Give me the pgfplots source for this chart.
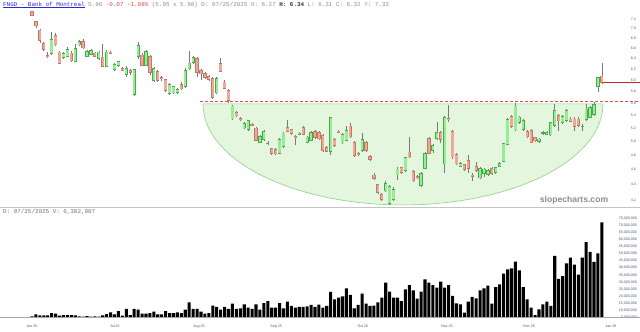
\documentclass[border=0pt]{standalone}
\usepackage{pgfplots}
\usepackage{pgfplotstable}
\pgfplotsset{compat=1.18}
\usepackage{fontspec}
\setmainfont{Liberation Sans}
\newfontfamily\monofont{Liberation Mono}
\definecolor{upfill}{HTML}{98EC98}
\definecolor{upline}{HTML}{48AA48}
\definecolor{dnfill}{HTML}{EDA898}
\definecolor{dnline}{HTML}{C07868}
\definecolor{wick}{HTML}{7A7A7A}
\definecolor{cupfill}{HTML}{E4F6DE}
\definecolor{cupline}{HTML}{8ED08A}
\definecolor{axcol}{HTML}{50507A}
\definecolor{hdrblue}{HTML}{2A2AD0}
\definecolor{hdrgray}{HTML}{8C8C8C}
\definecolor{hdrred}{HTML}{E84040}
\definecolor{dashred}{HTML}{E05050}
\definecolor{lastred}{HTML}{D02020}
\definecolor{sepgray}{HTML}{C4C4C4}

\pgfplotsset{
  candle/.style 2 args={draw=none, mark=none, forget plot,
    error bars/y dir=plus, error bars/y explicit, error bars/error mark=none,
    error bars/error bar style={draw=#1, line width=#2}},
}

\pgfplotstableread{
i o h l c
0 7.35 7.38 7.26 7.28
1 7.14 7.16 7.00 7.06
2 6.96 6.98 6.70 6.76
3 6.68 6.72 6.55 6.58
4 6.45 6.52 6.41 6.44
5 6.50 6.92 6.46 6.76
6 6.84 6.90 6.64 6.67
7 6.52 6.55 6.29 6.31
8 6.42 6.53 6.40 6.49
9 6.44 6.62 6.42 6.57
10 6.50 6.55 6.33 6.36
11 6.35 6.68 6.33 6.58
12 6.67 6.76 6.64 6.72
13 6.73 6.79 6.58 6.61
14 6.44 6.56 6.42 6.53
15 6.48 6.58 6.46 6.55
16 6.50 6.53 6.42 6.45
17 6.41 6.55 6.38 6.52
18 6.42 6.68 6.24 6.26
19 6.26 6.56 6.24 6.52
20 6.52 6.55 6.49 6.51
21 6.20 6.32 6.16 6.28
22 6.27 6.36 6.24 6.33
23 6.20 6.24 6.16 6.18
24 6.11 6.25 6.06 6.21
25 6.17 6.20 6.10 6.14
26 5.75 6.21 5.73 6.19
27 6.44 6.72 6.40 6.64
28 6.46 6.50 6.25 6.28
29 6.28 6.57 6.26 6.53
30 6.43 6.46 6.10 6.14
31 6.00 6.24 5.97 6.21
32 6.15 6.18 5.97 6.00
33 6.04 6.08 5.98 6.03
34 6.00 6.03 5.79 5.83
35 5.77 5.95 5.74 5.92
36 5.78 5.90 5.75 5.88
37 5.79 5.87 5.76 5.83
38 5.92 5.96 5.82 5.85
39 5.89 6.22 5.86 6.17
40 6.21 6.55 6.18 6.31
41 6.33 6.44 6.30 6.41
42 6.39 6.42 6.05 6.14
43 6.17 6.20 6.00 6.12
44 6.11 6.14 6.02 6.05
45 6.06 6.09 5.99 6.02
46 6.03 6.06 5.68 5.71
47 5.78 6.05 5.75 6.02
48 6.30 6.41 6.14 6.17
49 5.96 6.00 5.84 5.86
50 5.81 5.84 5.60 5.66
51 5.35 5.58 5.33 5.55
52 5.44 5.47 5.38 5.40
53 5.35 5.37 5.32 5.34
54 5.21 5.29 5.19 5.27
55 5.19 5.33 5.16 5.31
56 5.26 5.28 5.23 5.25
57 5.20 5.22 5.00 5.02
58 4.99 5.09 4.97 5.07
59 5.03 5.17 5.01 5.14
60 4.97 5.00 4.94 4.97
61 4.89 4.91 4.80 4.83
62 4.88 4.90 4.80 4.82
63 4.83 5.05 4.81 5.02
64 4.93 5.14 4.91 5.12
65 5.21 5.33 5.14 5.16
66 5.17 5.19 5.10 5.13
67 5.07 5.10 4.95 5.06
68 5.11 5.14 5.09 5.12
69 5.21 5.23 5.09 5.11
70 4.99 5.08 4.97 5.06
71 5.02 5.16 5.00 5.13
72 5.14 5.17 5.04 5.06
73 5.13 5.16 5.02 5.04
74 5.08 5.11 4.85 4.87
75 4.90 4.93 4.84 4.86
76 4.86 5.38 4.80 5.36
77 5.02 5.05 4.92 4.94
78 5.15 5.17 5.12 5.14
79 4.98 5.13 4.96 5.10
80 5.02 5.24 5.00 5.16
81 5.23 5.28 5.05 5.07
82 4.98 5.00 4.78 4.80
83 4.82 4.84 4.79 4.81
84 4.87 5.13 4.85 5.02
85 4.98 5.01 4.85 4.87
86 4.78 4.80 4.71 4.74
87 4.52 4.55 4.46 4.48
88 4.39 4.41 4.28 4.30
89 4.26 4.29 4.19 4.21
90 4.32 4.44 4.30 4.41
91 4.16 4.39 4.14 4.37
92 4.21 4.36 4.19 4.33
93 4.53 4.63 4.46 4.60
94 4.62 4.64 4.54 4.56
95 4.59 4.78 4.57 4.76
96 4.84 5.07 4.76 4.78
97 4.57 4.59 4.43 4.45
98 4.50 4.52 4.47 4.49
99 4.39 4.56 4.37 4.54
100 4.62 4.84 4.60 4.82
101 5.04 5.06 4.81 4.83
102 4.87 4.96 4.83 4.93
103 5.05 5.30 5.02 5.13
104 5.13 5.16 4.98 5.03
105 4.68 5.40 4.55 5.36
106 5.35 5.58 5.30 5.34
107 5.14 5.17 4.75 4.78
108 4.80 4.83 4.66 4.68
109 4.65 4.70 4.63 4.68
110 4.66 4.68 4.58 4.60
111 4.72 4.80 4.55 4.62
112 4.52 4.55 4.45 4.51
113 4.64 4.70 4.57 4.59
114 4.49 4.63 4.47 4.61
115 4.55 4.62 4.50 4.60
116 4.54 4.60 4.51 4.58
117 4.61 4.63 4.53 4.55
118 4.56 4.64 4.54 4.62
119 4.65 4.70 4.63 4.68
120 4.72 4.98 4.70 4.96
121 4.96 5.36 4.94 5.33
122 5.38 5.41 5.21 5.23
123 5.18 5.60 5.16 5.55
124 5.29 5.40 5.26 5.37
125 5.19 5.34 5.16 5.31
126 5.14 5.17 5.05 5.07
127 5.16 5.19 4.97 4.99
128 5.05 5.07 4.99 5.01
129 5.00 5.05 4.98 5.03
130 5.13 5.15 5.10 5.13
131 5.11 5.15 5.09 5.13
132 5.10 5.30 5.08 5.28
133 5.25 5.59 5.22 5.48
134 5.39 5.42 5.15 5.32
135 5.29 5.41 5.26 5.38
136 5.33 5.50 5.30 5.47
137 5.34 5.37 5.29 5.31
138 5.34 5.37 5.16 5.23
139 5.34 5.37 5.22 5.25
140 5.23 5.26 5.15 5.23
141 5.34 5.59 5.31 5.50
142 5.38 5.55 5.36 5.52
143 5.42 5.63 5.40 5.57
144 5.89 6.06 5.79 6.04
145 6.07 6.31 5.93 5.96
}\ohlc

\pgfplotstableread{
i v
0 0.5
1 1.9
2 1.2
3 1.2
4 1.2
5 2.8
6 2.4
7 0.9
8 1.4
9 1.4
10 1.4
11 1.2
12 0.5
13 0.3
14 0.7
15 0.3
16 0.5
17 0.3
18 1.2
19 2.1
20 3.3
21 1.9
22 4.2
23 1.0
24 5.7
25 1.4
26 5.7
27 5.2
28 2.4
29 2.4
30 2.8
31 3.8
32 1.9
33 1.9
34 4.2
35 2.8
36 2.8
37 3.3
38 2.8
39 5.2
40 10.4
41 5.7
42 5.7
43 3.8
44 2.4
45 2.8
46 8.0
47 7.1
48 5.2
49 7.1
50 5.7
51 9.4
52 5.7
53 6.1
54 9.0
55 6.6
56 5.7
57 9.0
58 5.2
59 9.9
60 11.3
61 6.6
62 6.6
63 9.9
64 6.1
65 10.8
66 7.8
67 6.6
68 7.1
69 7.1
70 7.5
71 8.5
72 7.1
73 8.7
74 6.6
75 7.8
76 17.7
77 12.5
78 13.7
79 14.6
80 20.3
81 15.6
82 6.1
83 8.5
84 16.5
85 9.4
86 7.8
87 8.0
88 10.4
89 13.7
90 24.3
91 17.9
92 13.7
93 13.7
94 11.3
95 19.6
96 22.6
97 18.9
98 13.0
99 17.9
100 26.7
101 24.3
102 22.6
103 20.8
104 25.0
105 20.8
106 22.6
107 14.9
108 9.7
109 9.0
110 3.1
111 10.8
112 14.2
113 13.2
114 18.9
115 20.3
116 22.2
117 9.4
118 21.2
119 23.1
120 30.7
121 33.7
122 34.4
123 39.2
124 33.0
125 21.2
126 12.5
127 6.6
128 1.4
129 5.4
130 9.0
131 10.8
132 7.8
133 43.2
134 27
135 29
136 38
137 42
138 37
139 30
140 42
141 53
142 46
143 39
144 45
145 67
}\vol

\newcommand\axfont{\fontsize{3.6bp}{4.2bp}\selectfont}
\newcommand\hdrfont{\monofont\fontsize{5.9bp}{7bp}\selectfont}

\begin{document}
\begin{tikzpicture}
\path[use as bounding box] (0,0) rectangle (640bp,332bp);

% price panel
\begin{axis}[
  at={(0bp,125bp)}, anchor=south west,
  scale only axis, width=640bp, height=207bp,
  xmin=-8.14, xmax=154.7,
  ymode=log, ymin=4.113, ymax=7.619,
  axis line style={draw=none}, tick style={draw=none},
  major tick length=0pt,
  xtick=\empty,
  ytick={4.2,4.4,4.6,4.8,5.0,5.2,5.4,5.6,5.8,6.0,6.2,6.4,6.6,6.8,7.0,7.2},
  yticklabels={4.2,4.4,4.6,4.8,5.0,5.2,5.4,5.6,5.8,6.0,6.2,6.4,6.6,6.8,7.0,7.2},
  yticklabel pos=right,
  yticklabel style={anchor=east, inner sep=0pt, xshift=-4bp, font=\axfont, text=axcol},
]
\fill[cupfill, draw=cupline, line width=0.6bp] (axis cs:43.5,5.59) arc[start angle=180, end angle=360, x radius=200bp, y radius=101bp] -- cycle;
\addplot[draw=dashred, line width=0.75bp, dash pattern=on 3bp off 2bp, mark=none, forget plot] coordinates {(42.7,5.64) (160,5.64)};
\addplot[draw=lastred, line width=1.1bp, mark=none, forget plot] coordinates {(145.3,5.96) (160,5.96)};
% wicks
\addplot[candle={wick}{0.6bp}]
  table[x=i, y=l, y error plus expr={\thisrow{h}-\thisrow{l}}] {\ohlc};
% up bodies: outline, then fill (zero length for down candles)
\addplot[candle={upline}{3.2bp}]
  table[x=i, y expr={min(\thisrow{o},\thisrow{c})/1.0022},
        y error plus expr={(\thisrow{c}<\thisrow{o}) ? 0 : (max(\thisrow{o},\thisrow{c})*1.0022-min(\thisrow{o},\thisrow{c})/1.0022)}] {\ohlc};
\addplot[candle={upfill}{2.3bp}]
  table[x=i, y expr={min(\thisrow{o},\thisrow{c})},
        y error plus expr={max(\thisrow{c}-\thisrow{o},0)}] {\ohlc};
% down bodies
\addplot[candle={dnline}{3.2bp}]
  table[x=i, y expr={min(\thisrow{o},\thisrow{c})/1.0022},
        y error plus expr={(\thisrow{c}<\thisrow{o}) ? (max(\thisrow{o},\thisrow{c})*1.0022-min(\thisrow{o},\thisrow{c})/1.0022) : 0}] {\ohlc};
\addplot[candle={dnfill}{2.3bp}]
  table[x=i, y expr={min(\thisrow{o},\thisrow{c})},
        y error plus expr={max(\thisrow{o}-\thisrow{c},0)}] {\ohlc};
\end{axis}

% volume panel
\begin{axis}[
  at={(0bp,15bp)}, anchor=south west,
  scale only axis, width=640bp, height=108bp,
  xmin=-8.14, xmax=154.7, ymin=0, ymax=76.4,
  axis line style={draw=none}, tick style={draw=none},
  major tick length=0pt,
  xtick={0,21.1,42.5,62.1,84.2,105.6,126.5,147.3},
  xticklabels={Jun 25,Jul 25,Aug 25,Sep 25,Oct 25,Nov 25,Dec 25,Jan 26},
  xticklabel style={font=\axfont, text=axcol, yshift=-4.5bp},
  ytick={5,10,15,20,25,30,35,40,45,50,55,60,65,70,75},
  yticklabels={{5,000,000},{10,000,000},{15,000,000},{20,000,000},{25,000,000},{30,000,000},{35,000,000},{40,000,000},{45,000,000},{50,000,000},{55,000,000},{60,000,000},{65,000,000},{70,000,000},{75,000,000}},
  yticklabel pos=right,
  yticklabel style={anchor=east, inner sep=0pt, xshift=-3bp, yshift=-7.5bp, font=\axfont, text=axcol},
]
\addplot[ybar, bar width=0.78, fill=black, draw=none] table[x=i, y=v] {\vol};
\end{axis}

\draw[sepgray, line width=1.5bp] (0,124.5bp) -- (640bp,124.5bp);
\draw[sepgray!85!black, line width=1.2bp] (0,14.4bp) -- (640bp,14.4bp);

\node[anchor=west, inner sep=0pt] at (3bp,327bp) {\hdrfont\color{hdrblue}\underline{FNGD - Bank of Montreal}~\color{hdrgray}5.96 \color{hdrred}-0.07 -1.08\%~\color{hdrgray}(5.95 x 5.98) D: 07/25/2025 O: 6.27 {\bfseries\color{black!80}H: 6.34} L: 6.31 C: 6.32 Y: 7.32};
\node[anchor=west, inner sep=0pt] at (3bp,120.5bp) {\hdrfont\color{hdrgray!80!black}D: 07/25/2025 V: 6,382,907};
\node[inner sep=0pt, text=black!45] at (574bp,132bp) {\fontsize{8.6bp}{10bp}\selectfont\bfseries slopecharts.com};
\end{tikzpicture}
\end{document}
